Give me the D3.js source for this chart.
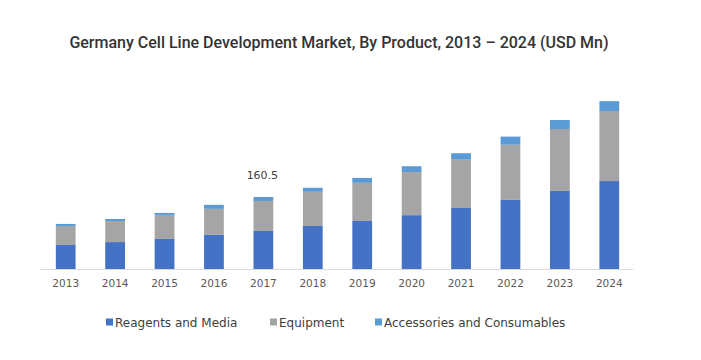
<!DOCTYPE html>
<html><head><meta charset="utf-8">
<script src="https://cdn.jsdelivr.net/npm/d3@7"></script>
<style>html,body{margin:0;padding:0;background:#fff;}</style>
</head><body>
<svg id="chart" width="701" height="360"></svg>
<script>
const years = ["2013","2014","2015","2016","2017","2018","2019","2020","2021","2022","2023","2024"];
const seriesNames = ["Reagents and Media","Equipment","Accessories and Consumables"];
const reagents    = [53.5, 60, 67, 76, 84.7, 96, 107, 120, 136, 154, 174, 196];
const equipment   = [42.4, 47, 53.5, 58, 66.9, 76, 85, 96, 109, 123, 138, 156];
const accessories = [4.5, 4.5, 4.5, 9, 8.9, 9, 11, 13, 13, 18, 20, 22];
const labelYear = "2017";
const labelText = "160.5";
const colors = ["#4472C4","#A5A5A5","#5B9BD5"];

const svg = d3.select("#chart");
svg.append("text").attr("x", 339).attr("y", 47.5).attr("text-anchor","middle")
  .attr("font-family","Roboto").attr("font-weight",500).attr("font-size","16px")
  .attr("fill","#333").text("Germany Cell Line Development Market, By Product, 2013 – 2024 (USD Mn)");

const data = years.map((y,i)=>({year:y, s0:reagents[i], s1:equipment[i], s2:accessories[i]}));
const stack = d3.stack().keys(["s0","s1","s2"])(data);

const x = d3.scaleBand().domain(years).range([41, 634]).paddingInner(0.6).paddingOuter(0.3);
const y = d3.scaleLinear().domain([0, 400]).range([269, 89.5]);

svg.append("g").selectAll("g").data(stack).join("g").attr("fill",(d,i)=>colors[i])
  .selectAll("rect").data(d=>d).join("rect")
  .attr("x", d=>x(d.data.year)).attr("width", x.bandwidth())
  .attr("y", d=>y(d[1])).attr("height", d=>y(d[0])-y(d[1]));

const axis = svg.append("g").attr("transform","translate(0,269)")
  .call(d3.axisBottom(x).tickSize(0).tickPadding(11));
axis.select(".domain").attr("stroke","#d9d9d9").attr("d","M40,0.5H633");
axis.selectAll("text").attr("font-family","DejaVu Sans").attr("font-size","10.5px").attr("fill","#595959");

const li = years.indexOf(labelYear);
svg.append("text").attr("x", x(labelYear)+x.bandwidth()/2 - 1).attr("y", y(stack[2][li][1]) - 18)
  .attr("text-anchor","middle").attr("font-family","DejaVu Sans").attr("font-size","11px")
  .attr("fill","#404040").text(labelText);

const legX = [106, 270, 375];
const leg = svg.append("g").selectAll("g").data(seriesNames).join("g")
  .attr("transform",(d,i)=>`translate(${legX[i]},322)`);
leg.append("rect").attr("x",0).attr("y",-3.5).attr("width",7).attr("height",7).attr("fill",(d,i)=>colors[i]);
leg.append("text").attr("x",9).attr("y",4.5).attr("font-family","DejaVu Sans").attr("font-size","12px")
  .attr("fill","#404040").text(d=>d);
</script>
</body></html>
